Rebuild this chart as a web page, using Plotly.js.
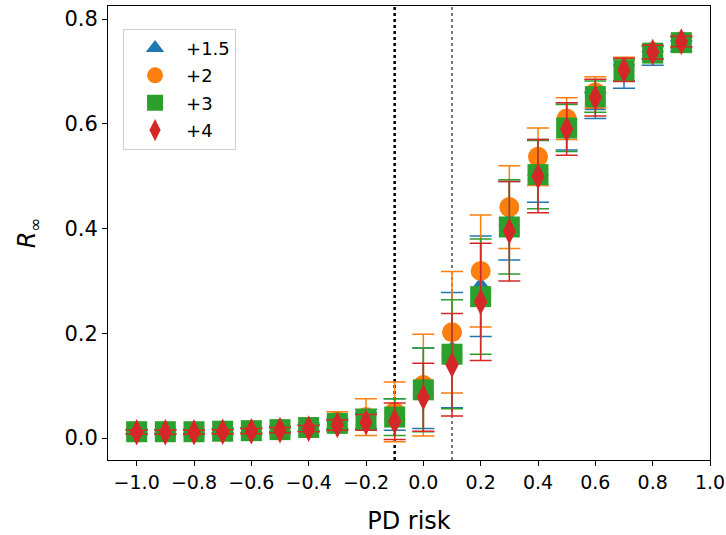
<!DOCTYPE html>
<html>
<head>
<meta charset="utf-8">
<script src="https://cdn.plot.ly/plotly-3.0.1.min.js"></script>
<style>html,body{margin:0;padding:0;background:#fff;}#chart{width:726px;height:535px;}</style>
</head>
<body>
<div id="chart"></div>
<script>
const pdRisk = [-1.0,-0.9,-0.8,-0.7,-0.6,-0.5,-0.4,-0.3,-0.2,-0.1,0.0,0.1,0.2,0.3,0.4,0.5,0.6,0.7,0.8,0.9];

const seriesNames = ["+1.5", "+2", "+3", "+4"];

const r15 = [0.012,0.012,0.012,0.013,0.014,0.016,0.019,0.025,0.033,0.045,0.095,0.168,0.290,0.415,0.510,0.595,0.635,0.690,0.725,0.748];
const r15Err = [0.004,0.004,0.004,0.004,0.005,0.005,0.006,0.008,0.015,0.030,0.077,0.110,0.096,0.075,0.060,0.045,0.025,0.022,0.013,0.010];

const r2 = [0.013,0.013,0.013,0.014,0.015,0.017,0.021,0.032,0.040,0.050,0.101,0.202,0.319,0.441,0.537,0.610,0.660,0.705,0.737,0.757];
const r2Err = [0.004,0.004,0.004,0.005,0.005,0.006,0.008,0.018,0.035,0.057,0.097,0.116,0.107,0.079,0.055,0.040,0.030,0.022,0.012,0.010];

const r3 = [0.012,0.012,0.012,0.013,0.014,0.016,0.020,0.028,0.035,0.040,0.092,0.160,0.270,0.403,0.503,0.592,0.652,0.702,0.735,0.755];
const r3Err = [0.004,0.004,0.004,0.004,0.005,0.005,0.006,0.010,0.020,0.035,0.080,0.104,0.110,0.090,0.065,0.045,0.030,0.020,0.012,0.010];

const r4 = [0.011,0.011,0.011,0.012,0.013,0.015,0.018,0.025,0.030,0.032,0.078,0.140,0.260,0.395,0.500,0.590,0.650,0.703,0.737,0.757];
const r4Err = [0.004,0.004,0.004,0.004,0.005,0.005,0.006,0.010,0.015,0.035,0.065,0.098,0.112,0.095,0.070,0.050,0.035,0.022,0.013,0.010];

const thresholds = [-0.1, 0.1];

const colors = ["#1f77b4", "#ff7f0e", "#2ca02c", "#d62728"];
const symbols = ["triangle-up", "circle", "square", "diamond-tall"];
const sizes = [19, 20, 21, 19];
const ys = [r15, r2, r3, r4];
const errs = [r15Err, r2Err, r3Err, r4Err];

const traces = seriesNames.map((name, i) => ({
  type: "scatter",
  mode: "markers",
  name: name,
  legendgroup: "g" + i,
  x: pdRisk,
  y: ys[i],
  error_y: {type: "data", array: errs[i], visible: true, color: colors[i], thickness: 1.5, width: 11},
  marker: {symbol: symbols[i], size: sizes[i], color: colors[i], line: {width: 0}}
}));

const shapes = [
  {type: "line", xref: "x", yref: "paper", x0: thresholds[0], x1: thresholds[0], y0: 0, y1: 1,
   line: {color: "black", width: 2.5, dash: "dot"}, layer: "below"},
  {type: "line", xref: "x", yref: "paper", x0: thresholds[1], x1: thresholds[1], y0: 0, y1: 1,
   line: {color: "#222", width: 1.2, dash: "dot"}, layer: "below"}
];

const layout = {
  width: 726, height: 535,
  margin: {l: 108, r: 16, t: 6, b: 75},
  paper_bgcolor: "white", plot_bgcolor: "white",
  font: {family: "DejaVu Sans", color: "black"},
  showlegend: true,
  legend: {
    x: 0.025, y: 0.95, xanchor: "left", yanchor: "top",
    bordercolor: "#d0d0d0", borderwidth: 1, bgcolor: "white",
    font: {size: 18, family: "DejaVu Sans"},
    tracegroupgap: 1, itemwidth: 52
  },
  xaxis: {
    range: [-1.1, 1.0], tickvals: [-1.0,-0.8,-0.6,-0.4,-0.2,0.0,0.2,0.4,0.6,0.8,1.0],
    tickformat: ".1f",
    showgrid: false, zeroline: false, showline: true, mirror: true, linecolor: "black", linewidth: 1,
    ticks: "outside", ticklen: 5, tickcolor: "black",
    tickfont: {size: 19},
    title: {text: "PD risk", font: {size: 24}, standoff: 21}
  },
  yaxis: {
    range: [-0.042, 0.825], tickvals: [0.0, 0.2, 0.4, 0.6, 0.8],
    tickformat: ".1f",
    showgrid: false, zeroline: false, showline: true, mirror: true, linecolor: "black", linewidth: 1,
    ticks: "outside", ticklen: 5, tickcolor: "black",
    tickfont: {size: 21},
    title: {text: "<i>R</i><sub>∞</sub>", font: {size: 24}, standoff: 21}
  },
  shapes: shapes
};

Plotly.newPlot("chart", traces, layout, {displayModeBar: false, staticPlot: true});
</script>
</body>
</html>
